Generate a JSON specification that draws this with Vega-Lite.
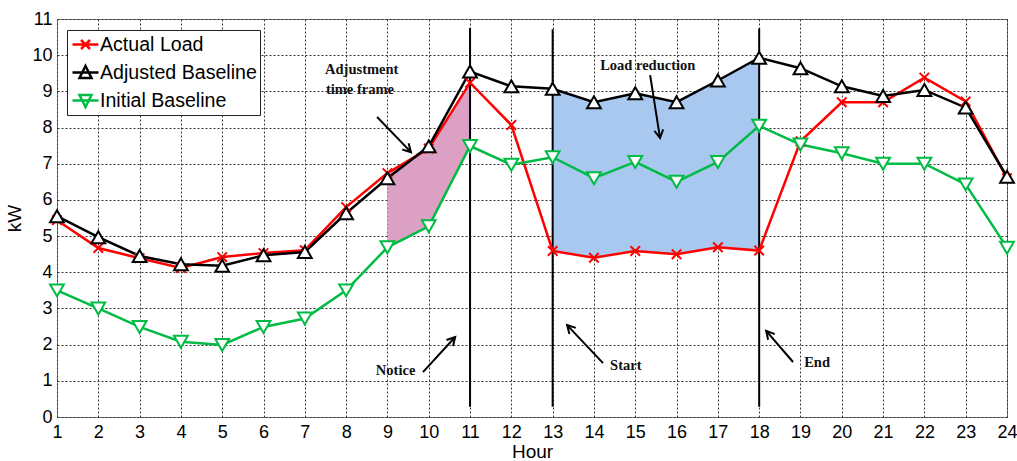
{
  "$schema": "https://vega.github.io/schema/vega-lite/v6.json",
  "width": 950,
  "height": 398,
  "autosize": {"type": "none"},
  "padding": {"left": 57, "top": 19, "right": 10, "bottom": 44},
  "background": "white",
  "datasets": {
    "load": [
      {"hour": 1, "Actual Load": 5.44, "Adjusted Baseline": 5.55, "Initial Baseline": 3.5},
      {"hour": 2, "Actual Load": 4.67, "Adjusted Baseline": 4.97, "Initial Baseline": 3.0},
      {"hour": 3, "Actual Load": 4.39, "Adjusted Baseline": 4.45, "Initial Baseline": 2.49},
      {"hour": 4, "Actual Load": 4.12, "Adjusted Baseline": 4.22, "Initial Baseline": 2.08},
      {"hour": 5, "Actual Load": 4.42, "Adjusted Baseline": 4.18, "Initial Baseline": 1.99},
      {"hour": 6, "Actual Load": 4.53, "Adjusted Baseline": 4.47, "Initial Baseline": 2.49},
      {"hour": 7, "Actual Load": 4.61, "Adjusted Baseline": 4.56, "Initial Baseline": 2.72},
      {"hour": 8, "Actual Load": 5.8, "Adjusted Baseline": 5.63, "Initial Baseline": 3.5},
      {"hour": 9, "Actual Load": 6.74, "Adjusted Baseline": 6.6, "Initial Baseline": 4.69},
      {"hour": 10, "Actual Load": 7.42, "Adjusted Baseline": 7.48, "Initial Baseline": 5.27},
      {"hour": 11, "Actual Load": 9.24, "Adjusted Baseline": 9.55, "Initial Baseline": 7.49},
      {"hour": 12, "Actual Load": 8.07, "Adjusted Baseline": 9.14, "Initial Baseline": 6.97},
      {"hour": 13, "Actual Load": 4.59, "Adjusted Baseline": 9.07, "Initial Baseline": 7.18},
      {"hour": 14, "Actual Load": 4.4, "Adjusted Baseline": 8.7, "Initial Baseline": 6.6},
      {"hour": 15, "Actual Load": 4.59, "Adjusted Baseline": 8.95, "Initial Baseline": 7.05},
      {"hour": 16, "Actual Load": 4.5, "Adjusted Baseline": 8.7, "Initial Baseline": 6.5},
      {"hour": 17, "Actual Load": 4.69, "Adjusted Baseline": 9.3, "Initial Baseline": 7.05},
      {"hour": 18, "Actual Load": 4.6, "Adjusted Baseline": 9.93, "Initial Baseline": 8.05},
      {"hour": 19, "Actual Load": 7.62, "Adjusted Baseline": 9.64, "Initial Baseline": 7.53},
      {"hour": 20, "Actual Load": 8.7, "Adjusted Baseline": 9.14, "Initial Baseline": 7.29},
      {"hour": 21, "Actual Load": 8.7, "Adjusted Baseline": 8.87, "Initial Baseline": 7.0},
      {"hour": 22, "Actual Load": 9.38, "Adjusted Baseline": 9.04, "Initial Baseline": 7.0},
      {"hour": 23, "Actual Load": 8.72, "Adjusted Baseline": 8.55, "Initial Baseline": 6.43},
      {"hour": 24, "Actual Load": 6.6, "Adjusted Baseline": 6.64, "Initial Baseline": 4.68}
    ],
    "events": [
      {"hour": 11, "lo": 0.28, "hi": 10.75},
      {"hour": 13, "lo": 0.28, "hi": 10.72},
      {"hour": 18, "lo": 0.28, "hi": 10.74}
    ],
    "arrows": [
      {"h1": 8.75, "v1": 8.29, "h2": 9.57, "v2": 7.32},
      {"h1": 15.36, "v1": 9.45, "h2": 15.6, "v2": 7.71},
      {"h1": 9.86, "v1": 1.24, "h2": 10.64, "v2": 2.21},
      {"h1": 14.22, "v1": 1.49, "h2": 13.35, "v2": 2.54},
      {"h1": 18.82, "v1": 1.52, "h2": 18.17, "v2": 2.38}
    ],
    "notes": [
      {"h": 7.49, "v": 9.59, "text": "Adjustment"},
      {"h": 7.51, "v": 9.03, "text": "time frame"},
      {"h": 14.15, "v": 9.7, "text": "Load reduction"},
      {"h": 8.72, "v": 1.27, "text": "Notice"},
      {"h": 14.39, "v": 1.41, "text": "Start"},
      {"h": 19.09, "v": 1.49, "text": "End"}
    ]
  },
  "encoding": {
    "x": {"type": "quantitative", "scale": {"domain": [1, 24], "nice": false, "zero": false},
      "axis": {"values": [1,2,3,4,5,6,7,8,9,10,11,12,13,14,15,16,17,18,19,20,21,22,23,24], "title": "Hour", "labelPadding": 6, "titlePadding": 1}},
    "y": {"type": "quantitative", "scale": {"domain": [0, 11], "nice": false},
      "axis": {"values": [0,1,2,3,4,5,6,7,8,9,10,11], "title": "kW", "labelPadding": 5, "titlePadding": 7}}
  },
  "layer": [
    {
      "data": {"name": "load"},
      "transform": [{"filter": "datum.hour >= 9 && datum.hour <= 11"}],
      "mark": {"type": "area", "color": "#dba0c4", "opacity": 1},
      "encoding": {
        "x": {"field": "hour"},
        "y": {"field": "Initial Baseline"},
        "y2": {"field": "Actual Load"}
      }
    },
    {
      "data": {"name": "load"},
      "transform": [{"filter": "datum.hour >= 13 && datum.hour <= 18"}],
      "mark": {"type": "area", "color": "#a8c8ef", "opacity": 1},
      "encoding": {
        "x": {"field": "hour"},
        "y": {"field": "Actual Load"},
        "y2": {"field": "Adjusted Baseline"}
      }
    },
    {
      "data": {"name": "events"},
      "mark": {"type": "rule", "color": "black", "strokeWidth": 2},
      "encoding": {
        "x": {"field": "hour"},
        "y": {"field": "lo"},
        "y2": {"field": "hi"}
      }
    },
    {
      "data": {"name": "load"},
      "transform": [{"fold": ["Actual Load", "Adjusted Baseline", "Initial Baseline"], "as": ["series", "kW"]}],
      "mark": {"type": "line", "strokeWidth": 2.5},
      "encoding": {
        "x": {"field": "hour"},
        "y": {"field": "kW"},
        "color": {
          "field": "series", "type": "nominal",
          "scale": {"domain": ["Actual Load", "Adjusted Baseline", "Initial Baseline"], "range": ["#ff0000", "#000000", "#00bb44"]},
          "legend": {
            "title": null,
            "orient": "none",
            "legendX": 10,
            "legendY": 11,
            "fillColor": "white",
            "strokeColor": "#222222",
            "padding": 3,
            "labelFont": "Liberation Sans",
            "labelFontSize": 19.6,
            "labelLimit": 300,
            "labelColor": "black",
            "labelOffset": 7,
            "symbolSize": 400,
            "symbolStrokeWidth": 2.5,
            "rowPadding": 6,
            "encode": {
              "symbols": {
                "update": {
                  "shape": {"signal": "datum.value === 'Actual Load' ? 'M-0.9,0H1.7M-0.05,-0.45L0.85,0.45M-0.05,0.45L0.85,-0.45' : (datum.value === 'Adjusted Baseline' ? 'M-0.9,0H1.7M0.4,-0.65L-0.2,0.55L1,0.55Z' : 'M-0.9,0H1.7M0.4,0.65L-0.2,-0.55L1,-0.55Z')"},
                  "fill": {"value": "transparent"},
                  "strokeWidth": {"value": 2.5}
                }
              }
            }
          }
        }
      }
    },
    {
      "data": {"name": "load"},
      "mark": {"type": "point", "shape": "M-1,-1L1,1M-1,1L1,-1", "filled": false, "stroke": "#ff0000", "strokeWidth": 2, "size": 90, "opacity": 1},
      "encoding": {"x": {"field": "hour"}, "y": {"field": "Actual Load"}}
    },
    {
      "data": {"name": "load"},
      "mark": {"type": "point", "shape": "triangle-up", "filled": false, "fill": "white", "fillOpacity": 1, "stroke": "#000000", "strokeWidth": 2, "size": 190, "opacity": 1},
      "encoding": {"x": {"field": "hour"}, "y": {"field": "Adjusted Baseline"}}
    },
    {
      "data": {"name": "load"},
      "mark": {"type": "point", "shape": "triangle-down", "filled": false, "fill": "white", "fillOpacity": 1, "stroke": "#00bb44", "strokeWidth": 2, "size": 190, "opacity": 1},
      "encoding": {"x": {"field": "hour"}, "y": {"field": "Initial Baseline"}}
    },
    {
      "data": {"name": "arrows"},
      "mark": {"type": "rule", "color": "black", "strokeWidth": 2},
      "encoding": {
        "x": {"field": "h1"},
        "y": {"field": "v1"},
        "x2": {"field": "h2"},
        "y2": {"field": "v2"}
      }
    },
    {
      "data": {"name": "arrows"},
      "transform": [{"calculate": "atan2((datum.h2 - datum.h1) * 41.3, (datum.v2 - datum.v1) * 36.2) * 180 / PI", "as": "ang"}],
      "mark": {"type": "point", "shape": "M-0.55,1L0,0L0.55,1", "filled": false, "color": "black", "strokeWidth": 2, "size": 256, "opacity": 1},
      "encoding": {
        "x": {"field": "h2"},
        "y": {"field": "v2"},
        "angle": {"field": "ang", "type": "quantitative", "scale": null}
      }
    },
    {
      "data": {"name": "notes"},
      "mark": {"type": "text", "font": "Liberation Serif", "fontWeight": "bold", "fontSize": 14.5, "align": "left", "baseline": "middle", "color": "#111111"},
      "encoding": {
        "x": {"field": "h"},
        "y": {"field": "v"},
        "text": {"field": "text"}
      }
    }
  ],
  "config": {
    "view": {"stroke": "#7f7f7f", "strokeWidth": 1},
    "axis": {
      "grid": true,
      "gridDash": [2, 2],
      "gridColor": "#333333",
      "gridOpacity": 1,
      "gridWidth": 1,
      "domain": false,
      "ticks": false,
      "labelFont": "Liberation Sans",
      "labelFontSize": 18,
      "labelColor": "black",
      "labelOverlap": false,
      "labelFlush": false,
      "titleFont": "Liberation Sans",
      "titleFontSize": 19,
      "titleFontWeight": "normal",
      "titleColor": "black",
      "zindex": 1
    }
  }
}
